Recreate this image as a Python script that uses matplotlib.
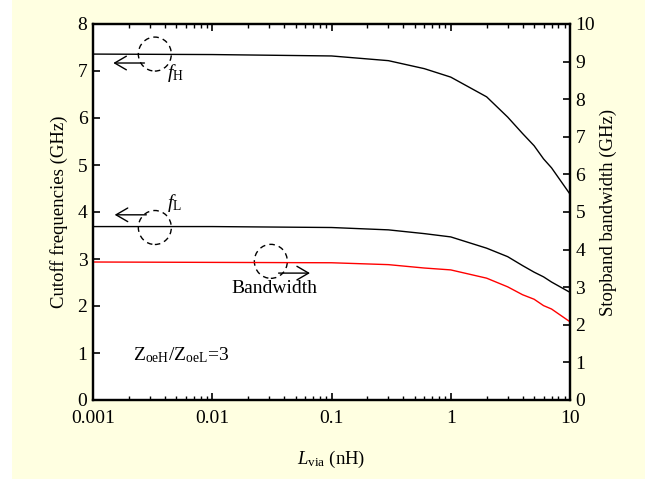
import numpy as np
import matplotlib
matplotlib.use("Agg")
import matplotlib.pyplot as plt
from matplotlib.patches import Ellipse, Rectangle
from matplotlib.ticker import LogLocator, FixedLocator, NullFormatter

plt.rcParams["font.family"] = ["Liberation Serif", "DejaVu Serif"]
plt.rcParams["mathtext.fontset"] = "custom"
plt.rcParams["mathtext.rm"] = "Liberation Serif"
plt.rcParams["mathtext.it"] = "Liberation Serif:italic"

# via inductance (nH) and the read-off curves
L_via = [0.001, 0.01, 0.1, 0.3, 0.6, 1, 2, 3, 4, 5, 6, 7, 10]
f_high = [7.36, 7.35, 7.32, 7.22, 7.05, 6.87, 6.45, 6.02, 5.67, 5.41, 5.13, 4.94, 4.38]
f_low = [3.69, 3.69, 3.67, 3.62, 3.54, 3.47, 3.23, 3.05, 2.86, 2.72, 2.62, 2.51, 2.29]
bandwidth = [3.67, 3.66, 3.65, 3.60, 3.51, 3.46, 3.24, 3.01, 2.80, 2.68, 2.51, 2.42, 2.08]

left_ticks = [0, 1, 2, 3, 4, 5, 6, 7, 8]
right_ticks = [0, 1, 2, 3, 4, 5, 6, 7, 8, 9, 10]
x_ticks = [0.001, 0.01, 0.1, 1, 10]
x_ticklabels = ["0.001", "0.01", "0.1", "1", "10"]

W, H = 651, 479
fig = plt.figure(figsize=(W / 100, H / 100), dpi=100, facecolor="white")
fig.patches.append(Rectangle((12 / W, 0), 633 / W, 1, transform=fig.transFigure,
                             facecolor="#FFFFE1", edgecolor="none", zorder=-10))

ax = fig.add_axes([93 / W, (H - 400) / H, 477 / W, 376 / H])
ax.set_facecolor("white")
ax2 = ax.twinx()

ax.plot(L_via, f_high, color="black", lw=1.0)
ax.plot(L_via, f_low, color="black", lw=1.0)
ax2.plot(L_via, bandwidth, color="red", lw=1.0)

ax.set_xscale("log")
ax.set_xlim(0.001, 10)
ax.set_ylim(0, 8)
ax2.set_ylim(0, 10)

ax.xaxis.set_major_locator(FixedLocator(x_ticks))
ax.set_xticklabels(x_ticklabels)
ax.xaxis.set_minor_locator(LogLocator(base=10, subs=np.arange(2, 10), numticks=20))
ax.xaxis.set_minor_formatter(NullFormatter())
ax.set_yticks(left_ticks)
ax2.set_yticks(right_ticks)

fs = 14
ax.tick_params(axis="x", which="both", direction="in", top=True, bottom=True,
               labelsize=fs, pad=7)
ax.tick_params(axis="x", which="major", length=5, width=1.2)
ax.tick_params(axis="x", which="minor", length=3, width=1.0)
ax.tick_params(axis="y", direction="in", left=True, right=False, length=5, width=1.2,
               labelsize=fs, pad=4)
ax2.tick_params(axis="y", direction="in", right=True, length=5, width=1.2,
                labelsize=fs, pad=4)
for a in (ax, ax2):
    for s in a.spines.values():
        s.set_linewidth(1.6)

lfs = 13.5
ax.set_xlabel(r"$L_{\mathrm{via}}$ (nH)", fontsize=lfs)
ax.set_ylabel("Cutoff frequencies (GHz)", fontsize=lfs)
ax2.set_ylabel("Stopband bandwidth (GHz)", fontsize=lfs)
ax.xaxis.set_label_coords(0.5, -0.13)
ax.yaxis.set_label_coords(-0.053, 0.5)
ax2.yaxis.set_label_coords(1.063, 0.5)

# dashed circles marking each curve, with arrows pointing at its axis
to_axes = ax.transData + ax.transAxes.inverted()
circ_w, circ_h = 33 / 477, 34 / 376
for cx, cy in [(0.0033, 7.36), (0.0033, 3.67), (0.031, 2.95)]:
    px, py = to_axes.transform((cx, cy))
    ax.add_patch(Ellipse((px, py), circ_w, circ_h, transform=ax.transAxes,
                         fill=False, ec="black", lw=1.0, ls=(0, (4, 3)), zorder=5))

arrow = dict(arrowstyle="->,head_length=0.6,head_width=0.35", lw=1.0, color="black",
             shrinkA=0, shrinkB=0, mutation_scale=14)
ax.annotate("", xy=(0.00148, 7.17), xytext=(0.0027, 7.17), arrowprops=arrow)
ax.annotate("", xy=(0.00152, 3.94), xytext=(0.0028, 3.94), arrowprops=arrow)
ax.annotate("", xy=(0.066, 2.70), xytext=(0.036, 2.70), arrowprops=arrow)

afs = 14
ax.text(0.0042, 6.96, r"$f_{\mathrm{H}}$", fontsize=afs, ha="left", va="center")
ax.text(0.0042, 4.19, r"$f_{\mathrm{L}}$", fontsize=afs, ha="left", va="center")
ax.text(0.033, 2.38, "Bandwidth", fontsize=afs, ha="center", va="center")
ax.text(0.00216, 0.96, r"$\mathrm{Z_{oeH}/Z_{oeL}}$=3", fontsize=afs, ha="left",
        va="center")

fig.savefig("out.png", dpi=100, facecolor=fig.get_facecolor())
